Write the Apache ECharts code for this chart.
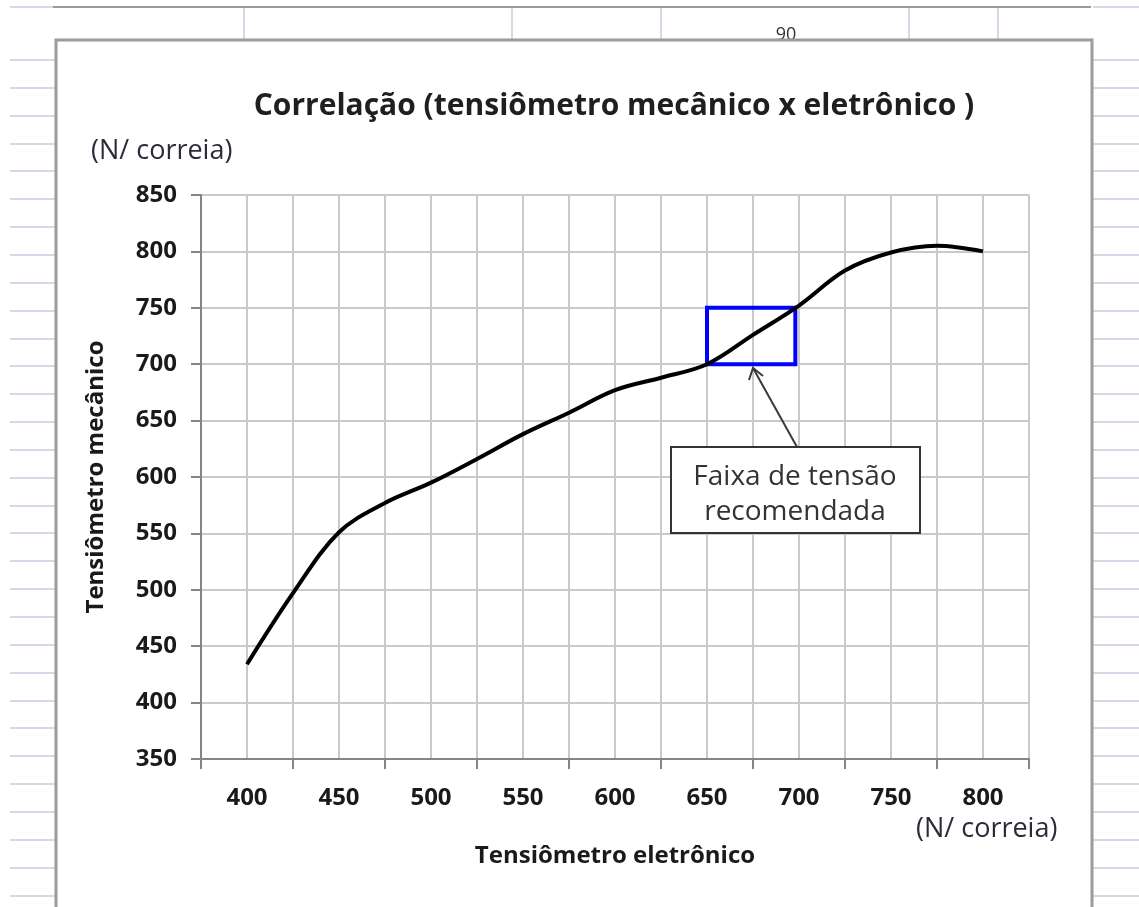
<!DOCTYPE html>
<html>
<head>
<meta charset="utf-8">
<script src="https://cdn.jsdelivr.net/npm/echarts@6/dist/echarts.min.js"></script>
<style>
html,body{margin:0;padding:0;background:#fff;}
#chart{width:1139px;height:907px;}
</style>
</head>
<body>
<div id="chart"></div>
<script>
// ---- data ----
const titleText = 'Correlação (tensiômetro mecânico x eletrônico )';
const unitText = '(N/ correia)';
const xAxisName = 'Tensiômetro eletrônico';
const yAxisName = 'Tensiômetro mecânico';
const xTickLabels = ['400', '450', '500', '550', '600', '650', '700', '750', '800'];
const xValues = [400, 425, 450, 475, 500, 525, 550, 575, 600, 625, 650, 675, 700, 725, 750, 775, 800];
const yValues = [434, 497, 551, 577, 595, 616, 638, 657, 677, 688, 700, 726, 752, 783, 799, 805, 800];
const rangeX = [650, 698];
const rangeY = [700, 750];
const annotationLines = ['Faixa de tensão', 'recomendada'];
const sheetLabel = '90';

const FONT = "'Open Sans', 'Noto Sans', sans-serif";
const chart = echarts.init(document.getElementById('chart'), null, {renderer: 'canvas'});

// spreadsheet decoration
const bg = [];
const sheetColor = '#d3d9e6';
const rowYs = [7];
for (let y = 60; y < 907; y += 27.85) rowYs.push(Math.round(y));
rowYs.forEach(function (y) {
  bg.push({type: 'line', z: -3, shape: {x1: 10, y1: y, x2: 55, y2: y}, style: {stroke: sheetColor, lineWidth: 2}});
  bg.push({type: 'line', z: -3, shape: {x1: 1093, y1: y, x2: 1139, y2: y}, style: {stroke: sheetColor, lineWidth: 2}});
});
[244, 512, 661, 909, 998].forEach(function (x) {
  bg.push({type: 'line', z: -3, shape: {x1: x, y1: 7, x2: x, y2: 40}, style: {stroke: sheetColor, lineWidth: 2}});
});
bg.push({type: 'line', z: -2, shape: {x1: 53, y1: 7, x2: 1091, y2: 7}, style: {stroke: '#9a9a9a', lineWidth: 2}});
bg.push({type: 'text', z: -2, style: {text: sheetLabel, x: 786, y: 26, fill: '#333', font: '18px ' + FONT, textAlign: 'center', textVerticalAlign: 'top'}});
bg.push({type: 'rect', z: -1, shape: {x: 56, y: 40, width: 1036, height: 900}, style: {fill: '#fff', stroke: '#9c9c9c', lineWidth: 3}});

// annotation
const ann = [
  {type: 'line', z: 20, shape: {x1: 797, y1: 447, x2: 753, y2: 368}, style: {stroke: '#3a3a3a', lineWidth: 2}},
  {type: 'polyline', z: 20, shape: {points: [[749, 380], [753, 368], [763, 376]]}, style: {stroke: '#3a3a3a', lineWidth: 2, fill: null}},
  {type: 'rect', z: 20, shape: {x: 671, y: 447, width: 249, height: 86}, style: {fill: '#fff', stroke: '#333', lineWidth: 2}},
  {type: 'text', z: 21, style: {text: annotationLines[0], x: 795, y: 477, fill: '#333', font: '28px ' + FONT, textAlign: 'center', textVerticalAlign: 'middle'}},
  {type: 'text', z: 21, style: {text: annotationLines[1], x: 795, y: 512, fill: '#333', font: '28px ' + FONT, textAlign: 'center', textVerticalAlign: 'middle'}}
];

const axisGray = '#858585';
const gridGray = '#c9c9c9';

chart.setOption({
  animation: false,
  backgroundColor: '#fff',
  textStyle: {fontFamily: FONT},
  title: [
    {text: titleText, left: 609, top: 86, textAlign: 'center',
     textStyle: {fontFamily: FONT, fontSize: 30, fontWeight: 'bold', color: '#1f1f1f'}},
    {text: unitText, left: 86, top: 133,
     textStyle: {fontFamily: FONT, fontSize: 27, fontWeight: 'normal', color: '#2b2b3b'}},
    {text: unitText, left: 911, top: 811,
     textStyle: {fontFamily: FONT, fontSize: 27, fontWeight: 'normal', color: '#2b2b3b'}}
  ],
  grid: {left: 201, right: 110, top: 195, bottom: 148, containLabel: false},
  xAxis: [
    {type: 'value', min: 375, max: 825, interval: 25, position: 'bottom',
     axisLine: {show: true, lineStyle: {color: axisGray, width: 2}},
     axisTick: {show: false}, axisLabel: {show: false},
     splitLine: {show: true, lineStyle: {color: gridGray, width: 2}},
     name: xAxisName, nameLocation: 'middle', nameGap: 85,
     nameTextStyle: {fontFamily: FONT, fontSize: 24, fontWeight: 'bold', color: '#1a1a1a'}},
    {type: 'category', data: xTickLabels, boundaryGap: true, position: 'bottom',
     axisLine: {show: false},
     axisTick: {show: true, length: 10, lineStyle: {color: axisGray, width: 2}},
     axisLabel: {margin: 27, fontFamily: FONT, fontSize: 24, fontWeight: 'bold', color: '#1a1a1a'},
     splitLine: {show: false}}
  ],
  yAxis: {
    type: 'value', min: 350, max: 850, interval: 50,
    axisLine: {show: true, lineStyle: {color: axisGray, width: 2}},
    axisTick: {show: true, length: 10, lineStyle: {color: axisGray, width: 2}},
    axisLabel: {margin: 24, fontFamily: FONT, fontSize: 24, fontWeight: 'bold', color: '#1a1a1a'},
    splitLine: {show: true, lineStyle: {color: gridGray, width: 2}},
    name: yAxisName, nameLocation: 'middle', nameGap: 93, nameRotate: 90,
    nameTextStyle: {fontFamily: FONT, fontSize: 24, fontWeight: 'bold', color: '#1a1a1a'}
  },
  series: [{
    type: 'line', xAxisIndex: 0, yAxisIndex: 0,
    data: xValues.map(function (x, i) { return [x, yValues[i]]; }),
    smooth: 0.35, showSymbol: false, symbol: 'none',
    lineStyle: {color: '#000', width: 4},
    z: 5,
    markArea: {
      silent: true,
      itemStyle: {color: 'rgba(0,0,0,0)', borderColor: '#0000ff', borderWidth: 4},
      data: [[{coord: [rangeX[0], rangeY[0]]}, {coord: [rangeX[1], rangeY[1]]}]]
    }
  }],
  graphic: {elements: bg.concat(ann)}
});
</script>
</body>
</html>
